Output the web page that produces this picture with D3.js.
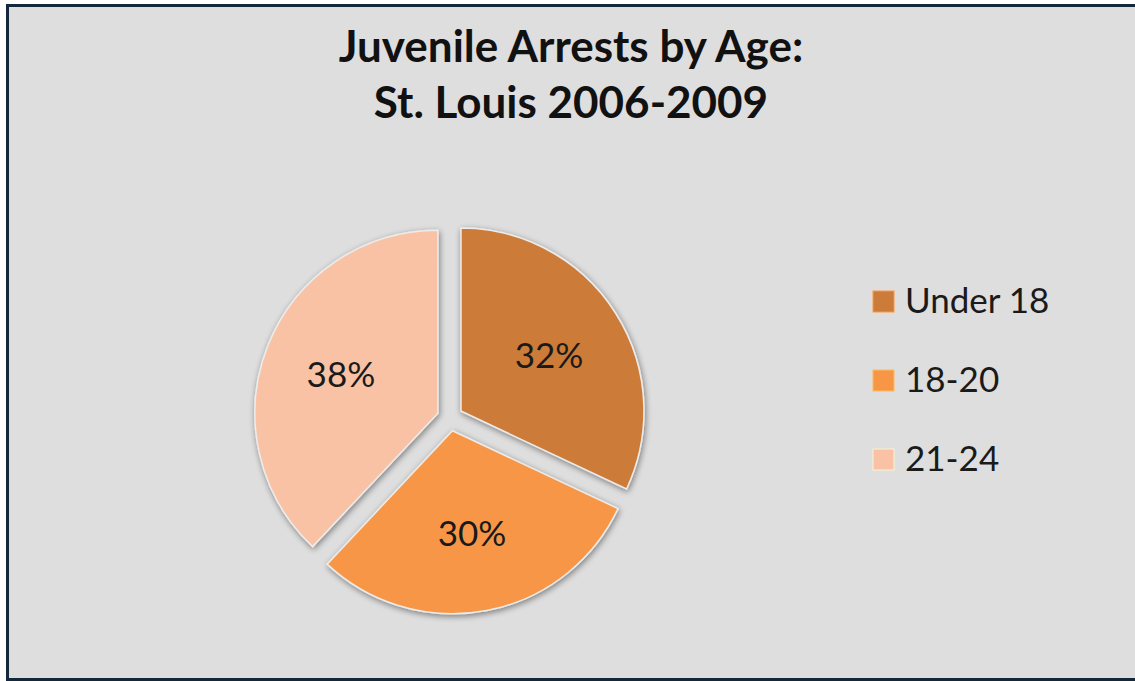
<!DOCTYPE html>
<html>
<head>
<meta charset="utf-8">
<script src="https://cdn.jsdelivr.net/npm/d3@7"></script>
<style>
  html, body { margin: 0; padding: 0; background: #ffffff; }
  svg { display: block; }
</style>
</head>
<body>
<script>
const categories = ["Under 18", "18-20", "21-24"];
const values = [32, 30, 38];
const labels = ["32%", "30%", "38%"];
const colors = ["#cc7b38", "#f79646", "#fac2a4"];
const titleLines = ["Juvenile Arrests by Age:", "St. Louis 2006-2009"];

const W = 1135, H = 681;
const svg = d3.select("body").append("svg").attr("width", W).attr("height", H);

const defs = svg.append("defs");
const f = defs.append("filter").attr("id", "shadow").attr("x", "-20%").attr("y", "-20%").attr("width", "140%").attr("height", "140%");
f.append("feGaussianBlur").attr("in", "SourceAlpha").attr("stdDeviation", 3).attr("result", "b");
f.append("feOffset").attr("in", "b").attr("dx", 1).attr("dy", 2).attr("result", "o");
f.append("feComponentTransfer").attr("in", "o").attr("result", "s")
  .append("feFuncA").attr("type", "linear").attr("slope", 0.45);
const m = f.append("feMerge");
m.append("feMergeNode").attr("in", "s");
m.append("feMergeNode").attr("in", "SourceGraphic");

// background + border
svg.append("rect").attr("x", 7.5).attr("y", 5.5).attr("width", W + 10).attr("height", 674)
  .attr("fill", "#dedede").attr("stroke", "#15273a").attr("stroke-width", 3);

// title
const title = svg.append("text").attr("text-anchor", "middle")
  .attr("font-family", "Lato, 'Open Sans', sans-serif").attr("font-weight", "bold")
  .attr("font-size", 44).attr("fill", "#111");
titleLines.forEach((t, i) => {
  title.append("tspan").attr("x", 571).attr("y", 62 + i * 56).text(t);
});

// pie
const cx = 450, cy = 418, r = 183, explode = 13;
const pie = d3.pie().sort(null).value(d => d)(values);
const arc = d3.arc().innerRadius(0).outerRadius(r);
const g = svg.append("g").attr("transform", `translate(${cx},${cy})`);

const slices = g.selectAll("g.slice").data(pie).join("g").attr("class", "slice")
  .attr("transform", d => {
    const a = (d.startAngle + d.endAngle) / 2;
    return `translate(${Math.sin(a) * explode},${-Math.cos(a) * explode})`;
  });

slices.append("path").attr("d", arc)
  .attr("fill", (d, i) => colors[i])
  .attr("stroke", "#ececec").attr("stroke-width", 1.5)
  .attr("filter", "url(#shadow)");

const labelArc = d3.arc().innerRadius(r * 0.57).outerRadius(r * 0.57);
slices.append("text")
  .attr("transform", d => `translate(${labelArc.centroid(d)})`)
  .attr("text-anchor", "middle").attr("dy", "0.36em")
  .attr("font-family", "Lato, 'Open Sans', sans-serif")
  .attr("font-size", 35).attr("fill", "#1a1a1a")
  .text((d, i) => labels[i]);

// legend
const leg = svg.append("g").attr("transform", "translate(873,291)");
const items = leg.selectAll("g").data(categories).join("g")
  .attr("transform", (d, i) => `translate(0,${i * 79})`);
items.append("rect").attr("width", 21).attr("height", 21)
  .attr("fill", (d, i) => colors[i]).attr("stroke", (d, i) => d3.color(colors[i]).brighter(0.6)).attr("stroke-width", 1);
items.append("text").attr("x", 32).attr("y", 22)
  .attr("font-family", "Lato, 'Open Sans', sans-serif")
  .attr("font-size", 35).attr("fill", "#1a1a1a")
  .text(d => d);
</script>
</body>
</html>
